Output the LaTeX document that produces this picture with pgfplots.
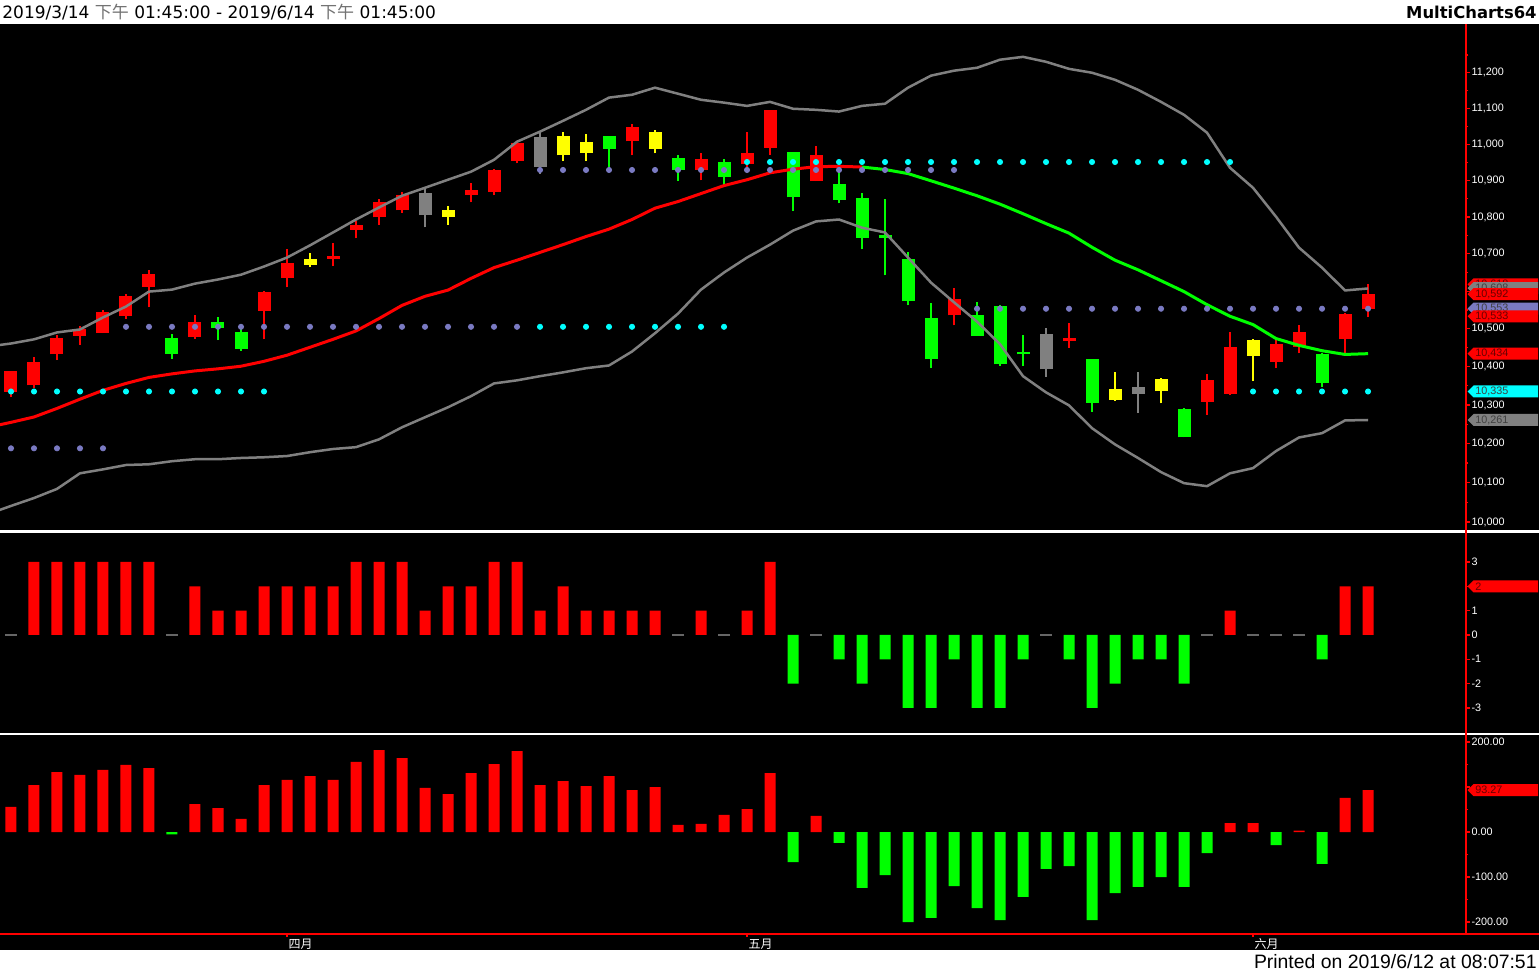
\documentclass[border=0pt]{standalone}
\usepackage{pgfplots}
\pgfplotsset{compat=1.18}
\usepackage{pgfplotstable}
\usepackage{fontspec}
\setmainfont{Liberation Sans}
\newfontfamily\cjk{Noto Sans CJK SC}
\newfontfamily\dvs{DejaVu Sans}

\definecolor{mcred}{RGB}{255,0,0}
\definecolor{mcgreen}{RGB}{0,255,0}
\definecolor{mcyellow}{RGB}{255,255,0}
\definecolor{mcgray}{RGB}{128,128,128}
\definecolor{mccyan}{RGB}{0,255,255}
\definecolor{mcpurple}{RGB}{122,122,194}

\newcommand\tickfont{\fontsize{5.4pt}{6pt}\selectfont}

% price flag on the right scale: x, y, fill, text colour, text
\newcommand\flag[5]{%
  \fill[#3] (axis cs:#1,#2) ++(0.75pt,0pt) -- ++(3pt,3pt) -- ++(32.25pt,0pt) -- ++(0pt,-6pt) -- ++(-32.25pt,0pt) -- cycle;
  \node[anchor=west, inner sep=0pt, text=#4, font=\tickfont] at ([xshift=4.5pt]axis cs:#1,#2) {#5};
}

% log price scale done by hand (ymode=log overflows on such a narrow range)
\def\nanstr{nan}
\newcommand\logprice[1]{%
  \def\tmpv{#1}%
  \ifx\tmpv\nanstr\def\pgfmathresult{nan}\else\pgfmathparse{ln(#1/10000)}\fi}

% bar index, moving average, bollinger up/low, purple and cyan levels
\pgfplotstableread{
i  ma    up    lo    pu    cy
-1 10242 10453 10020 nan   nan
0  10255 10461 10041 10188 10335
1  10269 10472 10061 10188 10335
2  10291 10490 10084 10188 10335
3  10315 10498 10124 10188 10335
4  10338 10530 10134 10188 10335
5  10356 10559 10145 10505 10335
6  10372 10599 10147 10505 10335
7  10381 10604 10155 10505 10335
8  10389 10620 10160 10505 10335
9  10394 10631 10160 10505 10335
10 10401 10644 10163 10505 10335
11 10414 10666 10165 10505 10335
12 10430 10690 10168 10505 nan
13 10451 10723 10178 10505 nan
14 10472 10758 10186 10505 nan
15 10494 10793 10191 10505 nan
16 10527 10826 10211 10505 nan
17 10562 10858 10242 10505 nan
18 10586 10880 10268 10505 nan
19 10603 10902 10294 10505 nan
20 10634 10924 10323 10505 nan
21 10663 10957 10356 10505 nan
22 10683 11007 10364 10505 nan
23 10704 11035 10375 10929 10505
24 10725 11065 10385 10929 10505
25 10747 11096 10396 10929 10505
26 10767 11130 10403 10929 10505
27 10793 11138 10440 10929 10505
28 10824 11158 10488 10929 10505
29 10842 11141 10540 10929 10505
30 10864 11124 10604 10929 10505
31 10886 11116 10650 10929 10505
32 10902 11107 10690 10929 10951
33 10921 11118 10725 10929 10951
34 10931 11099 10763 10929 10951
35 10938 11096 10788 10929 10951
36 10939 11091 10793 10929 10951
37 10937 11107 10771 10929 10951
38 10930 11113 10758 10929 10951
39 10919 11158 10690 10929 10951
40 10899 11192 10623 10929 10951
41 10879 11206 10570 10929 10951
42 10858 11214 10519 10553 10951
43 10835 11237 10459 10553 10951
44 10809 11245 10375 10553 10951
45 10782 11231 10333 10553 10951
46 10756 11211 10299 10553 10951
47 10718 11200 10240 10553 10951
48 10683 11180 10198 10553 10951
49 10657 11152 10163 10553 10951
50 10628 11118 10127 10553 10951
51 10599 11082 10099 10553 10951
52 10564 11032 10091 10553 10951
53 10533 10935 10124 10553 10951
54 10511 10880 10137 10553 10335
55 10474 10801 10181 10553 10335
56 10456 10717 10216 10553 10335
57 10442 10663 10227 10553 10335
58 10432 10602 10260 10553 10335
59 10434 10607 10261 10553 10335
}\series

% candles: per bar low/high (w) and body bottom/top (b)
\pgfplotstableread[row sep=\\]{
x w b\\
0 10320 10334\\ 0 10390 10389\\ 0 nan nan\\
1 10345 10351\\ 1 10426 10411\\ 1 nan nan\\
2 10417 10432\\ 2 10483 10475\\ 2 nan nan\\
3 10457 10481\\ 3 10507 10498\\ 3 nan nan\\
4 10488 10488\\ 4 10549 10544\\ 4 nan nan\\
5 10527 10533\\ 5 10591 10588\\ 5 nan nan\\
6 10557 10611\\ 6 10658 10645\\ 6 nan nan\\
8 10474 10478\\ 8 10535 10519\\ 8 nan nan\\
11 10472 10547\\ 11 10600 10597\\ 11 nan nan\\
12 10610 10635\\ 12 10714 10676\\ 12 nan nan\\
14 10667 10687\\ 14 10728 10694\\ 14 nan nan\\
15 10742 10766\\ 15 10788 10779\\ 15 nan nan\\
16 10779 10799\\ 16 10848 10841\\ 16 nan nan\\
17 10811 10818\\ 17 10869 10861\\ 17 nan nan\\
20 10840 10861\\ 20 10893 10875\\ 20 nan nan\\
21 10859 10868\\ 21 10932 10930\\ 21 nan nan\\
22 10947 10953\\ 22 11005 11003\\ 22 nan nan\\
27 10969 11008\\ 27 11057 11048\\ 27 nan nan\\
30 10900 10930\\ 30 10976 10960\\ 30 nan nan\\
32 10936 10945\\ 32 11033 10976\\ 32 nan nan\\
33 10971 10991\\ 33 11094 11094\\ 33 nan nan\\
35 10898 10898\\ 35 10996 10971\\ 35 nan nan\\
41 10509 10535\\ 41 10607 10578\\ 41 nan nan\\
46 10450 10467\\ 46 10514 10476\\ 46 nan nan\\
52 10274 10308\\ 52 10380 10364\\ 52 nan nan\\
53 10326 10330\\ 53 10491 10453\\ 53 nan nan\\
55 10396 10412\\ 55 10476 10459\\ 55 nan nan\\
56 10435 10452\\ 56 10509 10492\\ 56 nan nan\\
58 10437 10472\\ 58 10542 10538\\ 58 nan nan\\
59 10531 10551\\ 59 10618 10592\\ 59 nan nan\\
}\redc

\pgfplotstableread[row sep=\\]{
x w b\\
7 10421 10434\\ 7 10485 10476\\ 7 nan nan\\
9 10470 10501\\ 9 10532 10519\\ 9 nan nan\\
10 10441 10446\\ 10 10513 10490\\ 10 nan nan\\
26 10934 10987\\ 26 11024 11024\\ 26 nan nan\\
29 10898 10930\\ 29 10971 10962\\ 29 nan nan\\
31 10887 10909\\ 31 10960 10951\\ 31 nan nan\\
34 10817 10854\\ 34 10979 10979\\ 34 nan nan\\
36 10837 10846\\ 36 10923 10891\\ 36 nan nan\\
37 10712 10743\\ 37 10866 10852\\ 37 nan nan\\
38 10642 10743\\ 38 10850 10750\\ 38 nan nan\\
39 10562 10573\\ 39 10705 10685\\ 39 nan nan\\
40 10396 10419\\ 40 10569 10529\\ 40 nan nan\\
42 10482 10482\\ 42 10572 10535\\ 42 nan nan\\
43 10402 10406\\ 43 10564 10560\\ 43 nan nan\\
44 10402 10432\\ 44 10483 10440\\ 44 nan nan\\
47 10283 10306\\ 47 10419 10419\\ 47 nan nan\\
51 10216 10216\\ 51 10291 10289\\ 51 nan nan\\
57 10347 10358\\ 57 10437 10432\\ 57 nan nan\\
}\greenc

\pgfplotstableread[row sep=\\]{
x w b\\
13 10664 10671\\ 13 10703 10685\\ 13 nan nan\\
19 10779 10800\\ 19 10830 10818\\ 19 nan nan\\
24 10953 10969\\ 24 11034 11022\\ 24 nan nan\\
25 10955 10976\\ 25 11029 11007\\ 25 nan nan\\
28 10975 10988\\ 28 11040 11034\\ 28 nan nan\\
48 10310 10313\\ 48 10386 10341\\ 48 nan nan\\
50 10304 10336\\ 50 10371 10367\\ 50 nan nan\\
54 10362 10428\\ 54 10474 10469\\ 54 nan nan\\
}\yellowc

\pgfplotstableread[row sep=\\]{
x w b\\
18 10772 10805\\ 18 10878 10866\\ 18 nan nan\\
23 10918 10937\\ 23 11034 11020\\ 23 nan nan\\
45 10373 10393\\ 45 10501 10485\\ 45 nan nan\\
49 10280 10330\\ 49 10387 10348\\ 49 nan nan\\
}\grayc

\pgfplotsset{
  mc/.style={
    scale only axis, width=733pt, anchor=north west,
    xmin=-0.478, xmax=63.26, enlargelimits=false,
    axis y line*=right,
    y axis line style={draw=none},
    tick align=outside, major tick length=2pt, minor tick length=1.2pt,
    tick style={mcred, line width=0.6pt},
    yticklabel style={font=\tickfont, text=white, inner sep=0.6pt},
    clip mode=individual,
  },
  wick/.style={line width=1.25pt, unbounded coords=jump},
  body/.style={line width=6.5pt, unbounded coords=jump},
}

\begin{document}
\begin{tikzpicture}
\fill[white] (0pt,0pt) rectangle (769.5pt,-486.5pt);
\fill[black] (0pt,-12pt) rectangle (769.5pt,-475pt);

\node[anchor=west, inner sep=0pt, font=\dvs\fontsize{8.5pt}{10pt}\selectfont] at (1pt,-6pt)
  {2019/3/14 {\cjk\color{black!55}下午} 01:45:00 - 2019/6/14 {\cjk\color{black!55}下午} 01:45:00};
\node[anchor=east, inner sep=0pt, font=\dvs\bfseries\fontsize{8.2pt}{10pt}\selectfont] at (768.5pt,-6pt) {MultiCharts64};
\node[anchor=east, inner sep=0pt, font=\fontsize{9.7pt}{11pt}\selectfont] at (768.5pt,-480.75pt)
  {Printed on 2019/6/12 at 08:07:51};

% price pane
\begin{axis}[mc, at={(0pt,-12.5pt)}, height=252.5pt, axis x line=none,
  y coord trafo/.code={\logprice{#1}},
  ymin=9982, ymax=11336,
  ytick={10000,10100,10200,10300,10400,10500,10600,10700,10800,10900,11000,11100,11200},
  yticklabels={{10,000},{10,100},{10,200},{10,300},{10,400},{10,500},{},{10,700},{10,800},{10,900},{11,000},{11,100},{11,200}},
  minor ytick={10050,10150,10250,10350,10450,10550,10650,10750,10850,10950,11050,11150,11250},
]
\addplot[mcred, wick] table[x=x,y=w]{\redc};
\addplot[mcred, body] table[x=x,y=b]{\redc};
\addplot[mcgreen, wick] table[x=x,y=w]{\greenc};
\addplot[mcgreen, body] table[x=x,y=b]{\greenc};
\addplot[mcyellow, wick] table[x=x,y=w]{\yellowc};
\addplot[mcyellow, body] table[x=x,y=b]{\yellowc};
\addplot[mcgray, wick] table[x=x,y=w]{\grayc};
\addplot[mcgray, body] table[x=x,y=b]{\grayc};

\addplot[mcgray, line width=1.25pt] table[x=i,y=up]{\series};
\addplot[mcgray, line width=1.25pt] table[x=i,y=lo]{\series};
\addplot[mcred, line width=1.5pt, restrict x to domain=-1:37] table[x=i,y=ma]{\series};
\addplot[mcgreen, line width=1.5pt, restrict x to domain=37:59] table[x=i,y=ma]{\series};

\addplot[only marks, mark=*, mark size=1.3pt, mark options={draw=mcpurple, fill=mcpurple}] table[x=i,y=pu]{\series};
\addplot[only marks, mark=*, mark size=1.3pt, mark options={draw=mccyan, fill=mccyan}] table[x=i,y=cy]{\series};

\flag{63.26}{10618}{mcred}{red!40!black}{10,618}
\flag{63.26}{10608}{mcgray}{black!75}{10,608}
\flag{63.26}{10592}{mcred}{red!40!black}{10,592}
\flag{63.26}{10553}{mcpurple}{black!75}{10,553}
\flag{63.26}{10533}{mcred}{red!40!black}{10,533}
\flag{63.26}{10434}{mcred}{red!40!black}{10,434}
\flag{63.26}{10335}{mccyan}{black!75}{10,335}
\flag{63.26}{10261}{mcgray}{black!75}{10,261}
\end{axis}

% middle pane
\begin{axis}[mc, at={(0pt,-266.5pt)}, height=100pt, axis x line=none,
  ymin=-4.03, ymax=4.19,
  ytick={-3,-2,-1,0,1,2,3}, yticklabels={-3,-2,-1,0,1,{},3},
]
\addplot[ybar, bar width=5.5pt, bar shift=0pt, draw=none, fill=mcred] coordinates {
(1,3)(2,3)(3,3)(4,3)(5,3)(6,3)(8,2)(9,1)(10,1)(11,2)(12,2)(13,2)(14,2)(15,3)(16,3)(17,3)
(18,1)(19,2)(20,2)(21,3)(22,3)(23,1)(24,2)(25,1)(26,1)(27,1)(28,1)(30,1)(32,1)(33,3)
(53,1)(58,2)(59,2)};
\addplot[ybar, bar width=5.5pt, bar shift=0pt, draw=none, fill=mcgreen] coordinates {
(34,-2)(36,-1)(37,-2)(38,-1)(39,-3)(40,-3)(41,-1)(42,-3)(43,-3)(44,-1)(46,-1)(47,-3)
(48,-2)(49,-1)(50,-1)(51,-2)(57,-1)};
\addplot[only marks, mark=-, mark size=3pt, mark options={draw=black!60, line width=0.6pt}] coordinates {
(0,0)(7,0)(29,0)(31,0)(35,0)(45,0)(52,0)(54,0)(55,0)(56,0)};
\flag{63.26}{2}{mcred}{red!40!black}{2}
\end{axis}

% lower pane
\begin{axis}[mc, at={(0pt,-367.5pt)}, height=99pt,
  ymin=-224.4, ymax=215.6,
  ytick={-200,-100,0,100,200}, yticklabels={-200.00,-100.00,0.00,{},200.00},
  minor ytick={-150,-50,50,150},
  axis x line*=bottom, x axis line style={draw=none},
  xtick={12,32,54}, xticklabels={四月,五月,六月},
  xticklabel style={font=\cjk\fontsize{6pt}{7pt}\selectfont, text=white, anchor=north west, inner sep=0.6pt},
]
\addplot[ybar, bar width=5.5pt, bar shift=0pt, draw=none, fill=mcred] coordinates {
(0,56)(1,104)(2,133)(3,127)(4,138)(5,149)(6,142)(8,62)(9,53)(10,29)(11,104)(12,116)(13,124)
(14,116)(15,156)(16,182)(17,164)(18,98)(19,84)(20,131)(21,151)(22,180)(23,104)(24,113)
(25,102)(26,124)(27,93)(28,100)(29,16)(30,18)(31,38)(32,51)(33,131)(35,36)(53,20)(54,20)
(56,3)(58,76)(59,93.27)};
\addplot[ybar, bar width=5.5pt, bar shift=0pt, draw=none, fill=mcgreen] coordinates {
(7,-5)(34,-67)(36,-24)(37,-124)(38,-96)(39,-200)(40,-191)(41,-120)(42,-169)(43,-196)
(44,-144)(45,-82)(46,-76)(47,-196)(48,-136)(49,-122)(50,-100)(51,-122)(52,-47)(55,-29)(57,-71)};
\flag{63.26}{93.27}{mcred}{red!40!black}{93.27}
\end{axis}

% pane separators and scale lines
\draw[white, line width=1.2pt] (0pt,-265.75pt) -- (769.5pt,-265.75pt);
\draw[white, line width=1pt] (0pt,-367pt) -- (769.5pt,-367pt);
\draw[mcred, line width=0.6pt] (733pt,-12pt) -- (733pt,-467pt);
\draw[mcred, line width=0.6pt] (0pt,-467pt) -- (769.5pt,-467pt);

\pgfresetboundingbox
\path[use as bounding box] (0pt,0pt) rectangle (769.5pt,-486.5pt);
\end{tikzpicture}
\end{document}
